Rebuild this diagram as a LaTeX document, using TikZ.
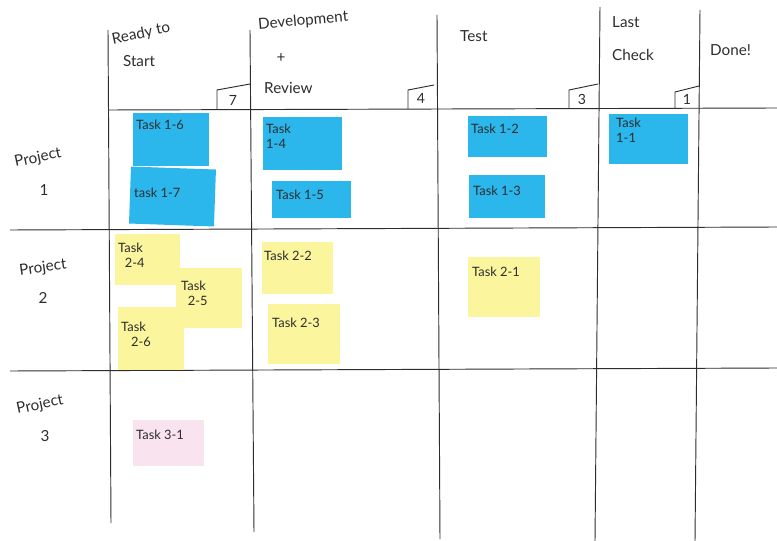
\documentclass[tikz,border=0pt]{standalone}
\usepackage{fontspec}
\setmainfont{Lato}
\usetikzlibrary{positioning}

\definecolor{notecyan}{RGB}{43,182,236}
\definecolor{noteyellow}{RGB}{251,246,158}
\definecolor{notepink}{RGB}{249,227,238}
\definecolor{pen}{RGB}{45,45,45}

\tikzset{
  board/.style={draw=pen, line width=0.8pt},
  hand/.style={text=pen, font=\fontsize{13}{15}\selectfont, inner sep=0pt},
  tasktext/.style={text=pen, font=\fontsize{11}{13}\selectfont, inner sep=0pt, anchor=north west, align=left},
  limit/.style={text=pen, font=\fontsize{12}{14}\selectfont, inner sep=0pt}
}

\begin{document}
\begin{tikzpicture}[x=0.03cm, y=-0.03cm]
\useasboundingbox (0,0) rectangle (777,541);

% board lines
\draw [board] (108,30) -- (111,523);
\draw [board] (250,30) -- (254,532);
\draw [board] (437,15) -- (440,539);
\draw [board] (600,7) -- (595,541);
\draw [board] (700,10) -- (695,541);
\draw [board] (108,110) -- (777,108);
\draw [board] (10,230) -- (777,227);
\draw [board] (10,371) -- (777,368);

% wip limits
\draw [board] (217,110) -- (217,90) -- (250,84);
\node [limit] (lim7) at (233,100) {7};
\draw [board] (408,109) -- (408,90) -- (434,85);
\node [limit] (lim4) at (421,98) {4};
\draw [board] (569,109) -- (569,90) -- (598,84);
\node [limit] (lim3) at (582,99) {3};
\draw [board] (675,109) -- (675,92) -- (699,86);
\node [limit] (lim1) at (687,99) {1};

% column heads
\node [hand, rotate=12, anchor=west] (ready) at (112,40) {Ready to};
\node [hand, below right=7pt and 8pt of ready.south west] (start) {Start};
\node [hand, rotate=5, anchor=west] (dev) at (258,25) {Development};
\node [hand] (plus) at (281,58) {+};
\node [hand, anchor=west] (review) at (264,88) {Review};
\node [hand, anchor=west] (test) at (460,36) {Test};
\node [hand, anchor=west] (last) at (612,22) {Last};
\node [hand, anchor=west] (check) at (612,55) {Check};
\node [hand, anchor=west] (done) at (710,50) {Done!};

% row heads
\node [hand, rotate=12] (proj1) at (38,158) {Project};
\node [hand] (num1) at (44,190) {1};
\node [hand, rotate=8] (proj2) at (43,268) {Project};
\node [hand] (num2) at (43,298) {2};
\node [hand, rotate=12] (proj3) at (40,405) {Project};
\node [hand] (num3) at (45,436) {3};

% project 1 notes
\fill [notecyan] (133,113) rectangle (209,166);
\node [tasktext] (t16) at (136,120) {Task 1-6};
\fill [notecyan, rotate around={-2:(172,196)}] (130,168) rectangle (215,225);
\node [tasktext] (t17) at (134,188) {task 1-7};
\fill [notecyan] (263,117) rectangle (342,170);
\node [tasktext] (t14) at (266,124) {Task\\ 1-4};
\fill [notecyan] (272,181) rectangle (351,218);
\node [tasktext] (t15) at (276,190) {Task 1-5};
\fill [notecyan] (468,116) rectangle (547,157);
\node [tasktext] (t12) at (471,124) {Task 1-2};
\fill [notecyan] (469,175) rectangle (545,218);
\node [tasktext] (t13) at (473,186) {Task 1-3};
\fill [notecyan] (609,114) rectangle (688,164);
\node [tasktext] (t11) at (616,118) {Task\\ 1-1};

% project 2 notes
\fill [noteyellow] (115,234) rectangle (180,285);
\node [tasktext] (t24) at (118,243) {Task\\ \ \ 2-4};
\fill [noteyellow] (176,268) rectangle (242,328);
\node [tasktext] (t25) at (181,281) {Task\\ \ \ 2-5};
\fill [noteyellow] (118,307) rectangle (184,370);
\node [tasktext] (t26) at (121,322) {Task\\ \ \ \ 2-6};
\fill [noteyellow] (262,242) rectangle (333,294);
\node [tasktext] (t22) at (264,251) {Task 2-2};
\fill [noteyellow] (268,304) rectangle (340,364);
\node [tasktext] (t23) at (272,318) {Task 2-3};
\fill [noteyellow] (468,257) rectangle (540,317);
\node [tasktext] (t21) at (472,267) {Task 2-1};

% project 3 notes
\fill [notepink] (133,420) rectangle (204,466);
\node [tasktext] (t31) at (136,430) {Task 3-1};
\end{tikzpicture}
\end{document}
